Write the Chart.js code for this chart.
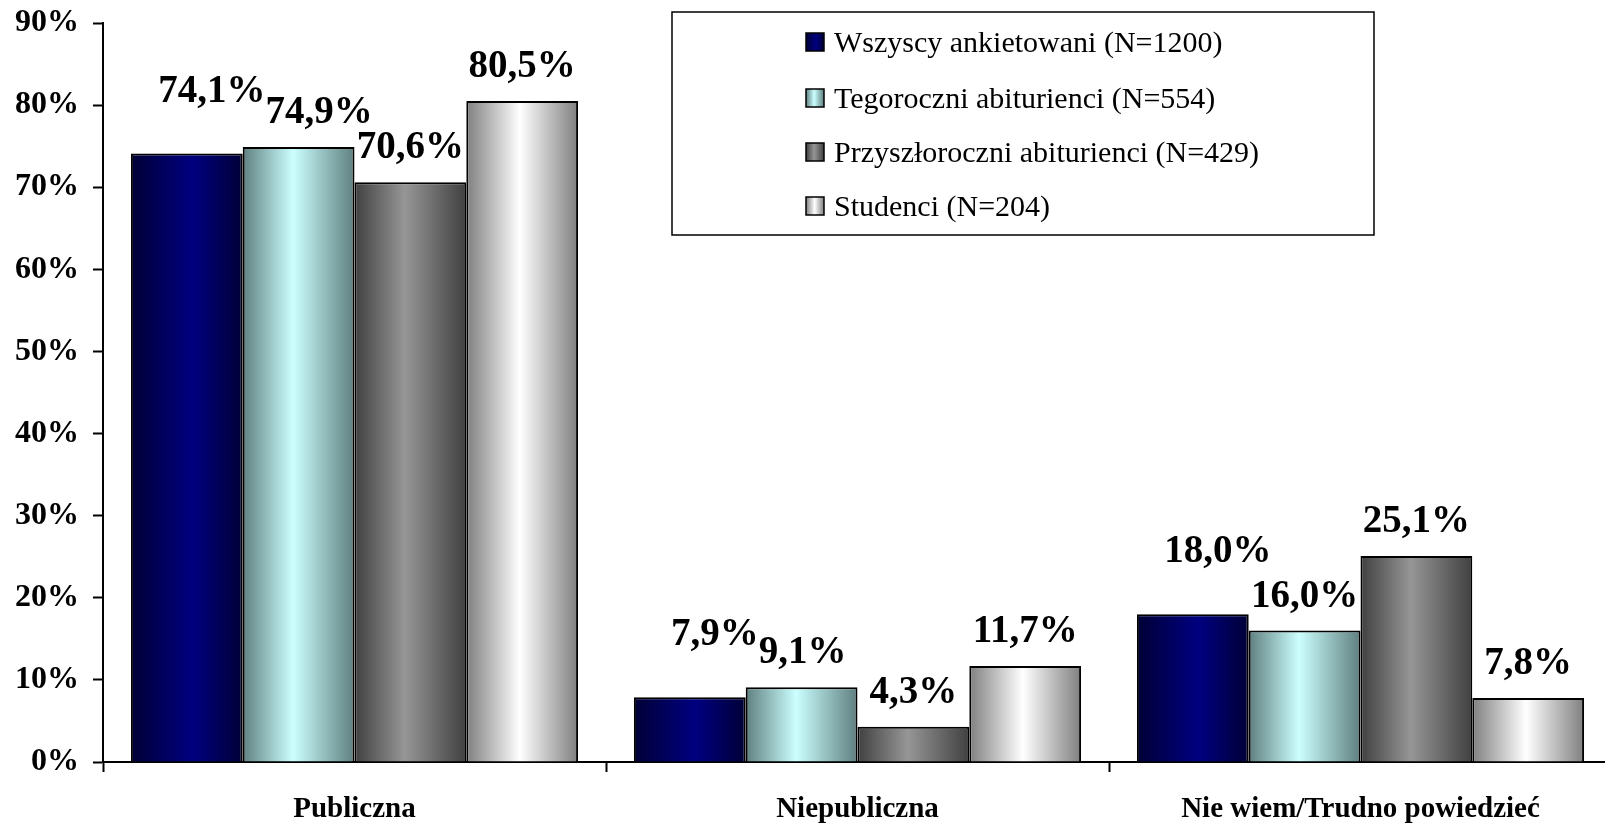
<!DOCTYPE html>
<html>
<head>
<meta charset="utf-8">
<script src="https://cdn.jsdelivr.net/npm/chart.js@4/dist/chart.umd.min.js"></script>
<style>
  html, body { margin: 0; padding: 0; background: #fff; overflow: hidden; }
  #wrap { width: 1612px; height: 829px; }
</style>
</head>
<body>
<div id="wrap"><canvas id="c" width="1612" height="829"></canvas></div>
<script>
// ---- data ----
const categories = ['Publiczna', 'Niepubliczna', 'Nie wiem/Trudno powiedzieć'];
const seriesNames = [
  'Wszyscy ankietowani (N=1200)',
  'Tegoroczni abiturienci (N=554)',
  'Przyszłoroczni abiturienci (N=429)',
  'Studenci (N=204)'
];
const wszyscy = [74.1, 7.9, 18.0];
const tegoroczni = [74.9, 9.1, 16.0];
const przyszloroczni = [70.6, 4.3, 25.1];
const studenci = [80.5, 11.7, 7.8];
const yMin = 0, yMax = 90, yStep = 10;

// ---- styles ----
const gradStops = [
  [[0, '#000036'], [0.55, '#000080'], [1, '#000036']],
  [[0, '#5f7f7f'], [0.45, '#ccffff'], [1, '#5f7f7f']],
  [[0, '#404040'], [0.45, '#969696'], [1, '#404040']],
  [[0, '#7f7f7f'], [0.48, '#ffffff'], [1, '#7f7f7f']]
];
const CAT_PCT = 0.889;
const SERIF = '"Liberation Serif", "Times New Roman", serif';

function makeGrad(ctx2d, x0, x1, stops) {
  const g = ctx2d.createLinearGradient(x0, 0, x1, 0);
  stops.forEach(s => g.addColorStop(s[0], s[1]));
  return g;
}

function barBg(dsIndex) {
  return function (ctx) {
    const chart = ctx.chart;
    const xs = chart.scales && chart.scales.x;
    if (!xs || !chart.chartArea || ctx.dataIndex === undefined) return gradStops[dsIndex][1][1];
    const n = chart.data.datasets.length;
    const catW = (xs.right - xs.left) / chart.data.labels.length;
    const groupW = catW * CAT_PCT;
    const barW = groupW / n;
    const cx = xs.getPixelForValue(ctx.dataIndex);
    const x0 = cx - groupW / 2 + dsIndex * barW;
    return makeGrad(chart.ctx, x0, x0 + barW, gradStops[dsIndex]);
  };
}

const seriesValues = [wszyscy, tegoroczni, przyszloroczni, studenci];

const datasets = seriesValues.map((vals, i) => ({
  label: seriesNames[i],
  data: vals,
  backgroundColor: barBg(i),
  borderColor: '#000',
  borderWidth: 2,
  borderSkipped: 'bottom',
  categoryPercentage: CAT_PCT,
  barPercentage: 1.0
}));

function fmt(v) { return v.toFixed(1).replace('.', ',') + '%'; }

const labelPlugin = {
  id: 'valueLabels',
  afterDatasetsDraw(chart) {
    const c = chart.ctx;
    c.save();
    c.font = 'bold 39px ' + SERIF;
    c.fillStyle = '#000';
    c.textAlign = 'left';
    c.textBaseline = 'alphabetic';
    const nCat = chart.data.labels.length;
    for (let j = 0; j < nCat; j++) {
      let prev = null;
      chart.data.datasets.forEach((ds, i) => {
        const el = chart.getDatasetMeta(i).data[j];
        const txt = fmt(ds.data[j]);
        const w = c.measureText(txt).width;
        let cx = el.x + (i === 0 ? 25 : 0);
        let y = el.y - (i === 0 ? 52 : 24);
        let left = cx - w / 2;
        if (prev && prev.right > left && Math.abs(prev.y - y) < 30) {
          left = prev.right;
        }
        c.fillText(txt, left, y);
        prev = { right: left + w, y: y };
      });
    }
    c.restore();
  }
};

const legendPlugin = {
  id: 'boxLegend',
  afterDraw(chart) {
    const c = chart.ctx;
    c.save();
    c.strokeStyle = '#000';
    c.lineWidth = 1.5;
    c.strokeRect(672, 12, 702, 223);
    const rows = [42, 98, 152, 206];
    c.font = '30px ' + SERIF;
    c.fillStyle = '#000';
    c.textBaseline = 'middle';
    c.textAlign = 'left';
    chart.data.datasets.forEach((ds, i) => {
      const y = rows[i];
      c.fillStyle = makeGrad(c, 806, 824, gradStops[i]);
      c.fillRect(806, y - 9, 18, 18);
      c.lineWidth = 1.5;
      c.strokeRect(806, y - 9, 18, 18);
      c.fillStyle = '#000';
      c.fillText(ds.label, 834, y + 2);
    });
    c.restore();
  }
};

new Chart(document.getElementById('c'), {
  type: 'bar',
  data: { labels: categories, datasets: datasets },
  options: {
    responsive: false,
    animation: false,
    layout: { padding: { top: 23, right: 0, bottom: 0, left: 0 } },
    plugins: { legend: { display: false }, tooltip: { enabled: false } },
    scales: {
      x: {
        offset: true,
        grid: { offset: true, drawOnChartArea: false, drawTicks: true, tickLength: 10, tickColor: '#000', tickWidth: 2 },
        border: { display: true, color: '#000', width: 2 },
        ticks: { color: '#000', font: { family: SERIF, size: 29, weight: 'bold' }, padding: 20, maxRotation: 0, autoSkip: false },
        afterFit(scale) { scale.height = 67; scale.paddingLeft = 0; scale.paddingRight = 0; }
      },
      y: {
        min: yMin, max: yMax,
        grid: { drawOnChartArea: false, drawTicks: true, tickLength: 10, tickColor: '#000', tickWidth: 2 },
        border: { display: true, color: '#000', width: 2 },
        ticks: { stepSize: yStep, color: '#000', font: { family: SERIF, size: 32, weight: 'bold' }, padding: 14,
                 callback: v => v + '%' },
        afterFit(scale) { scale.width = 103; scale.paddingTop = 0; scale.paddingBottom = 0; }
      }
    }
  },
  plugins: [labelPlugin, legendPlugin]
});
</script>
</body>
</html>
